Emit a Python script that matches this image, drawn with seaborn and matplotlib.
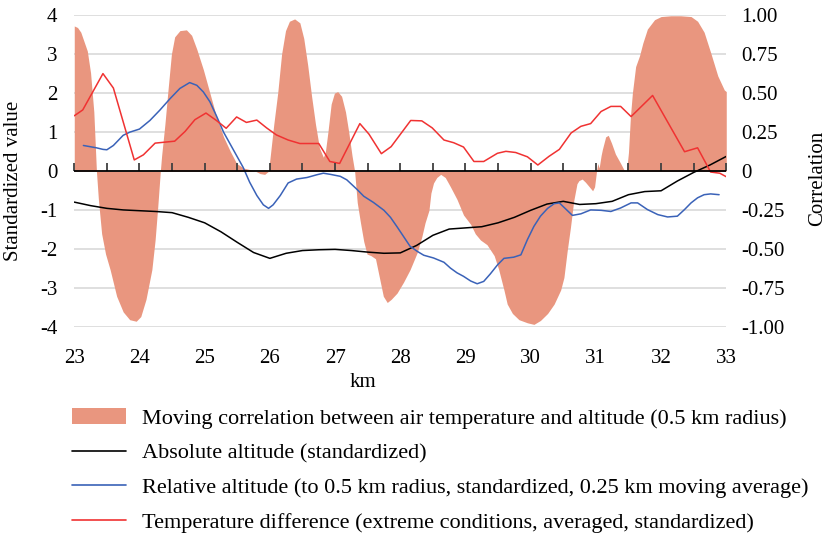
import numpy as np
import matplotlib
matplotlib.use("Agg")
import matplotlib.pyplot as plt
from matplotlib.patches import Patch
from matplotlib.lines import Line2D, TICKUP
import seaborn as sns

# Moving correlation between air temperature and altitude (right axis)
corr_km = [23.00, 23.05, 23.10, 23.15, 23.20, 23.25, 23.30, 23.34,
           23.37, 23.42, 23.48, 23.55, 23.65, 23.75, 23.85, 23.95, 24.02, 24.10,
           24.19, 24.24, 24.28, 24.32,
           24.34, 24.39, 24.44, 24.49, 24.54, 24.62, 24.72, 24.80, 24.88, 24.98,
           25.08, 25.18, 25.29, 25.39, 25.49, 25.60, 25.70, 25.78, 25.85, 25.92, 25.98,
           26.02, 26.06, 26.12, 26.18, 26.24, 26.30, 26.38, 26.46, 26.52, 26.58,
           26.64, 26.70, 26.76, 26.82,
           26.85, 26.89, 26.94, 26.99, 27.04, 27.10, 27.16, 27.21, 27.26, 27.30,
           27.34, 27.39, 27.44, 27.49, 27.55, 27.62, 27.68, 27.74, 27.80, 27.86,
           27.95, 28.05, 28.15, 28.26, 28.33, 28.38, 28.44, 28.47, 28.51, 28.56, 28.62,
           28.69, 28.77, 28.87, 28.97, 29.08, 29.15, 29.23, 29.33, 29.44, 29.51,
           29.59, 29.64, 29.72, 29.82, 29.95, 30.05, 30.15, 30.26, 30.36, 30.46,
           30.51, 30.56, 30.61, 30.66, 30.71, 30.74, 30.79, 30.84, 30.90, 30.95,
           30.98, 31.01, 31.03, 31.05, 31.08, 31.10, 31.15, 31.19, 31.24, 31.30,
           31.38, 31.43, 31.47,
           31.50, 31.53, 31.56, 31.61, 31.67, 31.72, 31.79, 31.90, 32.00, 32.15,
           32.30, 32.46, 32.56, 32.66, 32.76, 32.87, 32.97, 33.00]
corr_val = [0.93, 0.92, 0.89, 0.83, 0.77, 0.63, 0.38, 0.00,
            -0.18, -0.40, -0.53, -0.63, -0.80, -0.90, -0.95, -0.96, -0.93, -0.82,
            -0.63, -0.44, -0.23, 0.00,
            0.10, 0.30, 0.53, 0.75, 0.86, 0.90, 0.905, 0.87, 0.78, 0.65,
            0.50, 0.35, 0.22, 0.13, 0.05, 0.02, 0.01, 0.00, -0.015, -0.02, 0.00,
            0.15, 0.30, 0.50, 0.75, 0.90, 0.96, 0.975, 0.95, 0.85, 0.68,
            0.48, 0.30, 0.15, 0.09,
            0.12, 0.25, 0.43, 0.50, 0.51, 0.48, 0.38, 0.25, 0.10, 0.00,
            -0.20, -0.33, -0.45, -0.53, -0.54, -0.56, -0.68, -0.80, -0.84, -0.82,
            -0.78, -0.71, -0.63, -0.52, -0.42, -0.33, -0.25, -0.14, -0.075, -0.04, -0.02,
            -0.04, -0.10, -0.18, -0.28, -0.34, -0.40, -0.44, -0.47, -0.54, -0.63,
            -0.76, -0.85, -0.91, -0.95, -0.97, -0.98, -0.955, -0.91, -0.85, -0.76,
            -0.68, -0.51, -0.36, -0.19, -0.08, -0.06, -0.05, -0.07, -0.10, -0.125,
            -0.10, 0.00, 0.05, 0.02, 0.10, 0.14, 0.22, 0.23, 0.18, 0.11,
            0.05, 0.01, 0.00,
            0.12, 0.35, 0.50, 0.67, 0.74, 0.82, 0.91, 0.97, 0.99, 0.995,
            0.995, 0.99, 0.96, 0.89, 0.76, 0.61, 0.52, 0.51]

# Absolute altitude (standardized)
abs_km = [23.0, 23.25, 23.5, 23.75, 24.0, 24.25, 24.5, 24.75, 25.0, 25.25,
          25.5, 25.75, 26.0, 26.25, 26.5, 26.75, 27.0, 27.25, 27.5, 27.75,
          28.0, 28.25, 28.5, 28.75, 29.0, 29.25, 29.5, 29.75, 30.0, 30.25,
          30.5, 30.75, 31.0, 31.25, 31.5, 31.75, 32.0, 32.25, 32.5, 32.75, 33.0]
abs_val = [-0.79, -0.88, -0.95, -0.99, -1.01, -1.03, -1.06, -1.18, -1.32, -1.55,
           -1.82, -2.08, -2.23, -2.10, -2.03, -2.01, -2.00, -2.03, -2.07, -2.10,
           -2.09, -1.90, -1.64, -1.48, -1.45, -1.42, -1.32, -1.18, -1.00, -0.84,
           -0.77, -0.85, -0.83, -0.77, -0.60, -0.52, -0.50, -0.25, -0.03, 0.16, 0.38]

# Relative altitude (to 0.5 km radius, standardized, 0.25 km moving average)
rel_km = [23.14, 23.24, 23.34, 23.44, 23.50, 23.60, 23.75, 23.85, 24.00, 24.16,
          24.31, 24.47, 24.62, 24.77, 24.88, 24.98, 25.08, 25.18, 25.29, 25.39,
          25.49, 25.59, 25.69, 25.80, 25.90, 25.98, 26.05, 26.16, 26.28, 26.41,
          26.57, 26.72, 26.82, 26.93, 27.08, 27.18, 27.34, 27.44, 27.59, 27.75,
          27.85, 27.95, 28.05, 28.15, 28.26, 28.36, 28.51, 28.67, 28.77, 28.87,
          28.97, 29.08, 29.18, 29.28, 29.38, 29.49, 29.59, 29.74, 29.85, 29.95,
          30.05, 30.15, 30.26, 30.36, 30.44, 30.54, 30.64, 30.77, 30.92, 31.08,
          31.23, 31.38, 31.54, 31.64, 31.79, 31.95, 32.10, 32.25, 32.36, 32.46,
          32.56, 32.66, 32.76, 32.89]
rel_val = [0.66, 0.63, 0.60, 0.56, 0.55, 0.66, 0.92, 1.00, 1.08, 1.30,
           1.56, 1.86, 2.12, 2.27, 2.20, 2.03, 1.78, 1.42, 1.00, 0.70,
           0.40, 0.10, -0.28, -0.62, -0.86, -0.95, -0.86, -0.62, -0.30, -0.20,
           -0.16, -0.09, -0.05, -0.08, -0.13, -0.22, -0.47, -0.64, -0.80, -1.00,
           -1.18, -1.42, -1.67, -1.92, -2.05, -2.15, -2.22, -2.33, -2.48, -2.60,
           -2.69, -2.81, -2.88, -2.82, -2.63, -2.40, -2.23, -2.20, -2.14, -1.75,
           -1.41, -1.15, -0.95, -0.83, -0.81, -0.97, -1.13, -1.09, -0.99, -1.00,
           -1.03, -0.94, -0.81, -0.81, -0.98, -1.11, -1.17, -1.15, -0.98, -0.81,
           -0.68, -0.60, -0.58, -0.60]

# Temperature difference (extreme conditions, averaged, standardized)
temp_km = [23.00, 23.13, 23.44, 23.60, 23.92, 24.06, 24.24, 24.54, 24.70, 24.85,
           25.02, 25.18, 25.33, 25.49, 25.64, 25.80, 25.95, 26.10, 26.28, 26.46,
           26.75, 26.92, 27.07, 27.38, 27.52, 27.71, 27.86, 28.16, 28.33, 28.49,
           28.67, 28.82, 28.97, 29.13, 29.28, 29.49, 29.62, 29.77, 29.95, 30.11,
           30.28, 30.44, 30.62, 30.77, 30.92, 31.08, 31.23, 31.38, 31.54, 31.87,
           32.36, 32.56, 32.76, 32.90, 33.00]
temp_val = [1.42, 1.57, 2.50, 2.13, 0.29, 0.42, 0.72, 0.77, 1.02, 1.32,
            1.49, 1.30, 1.10, 1.39, 1.25, 1.31, 1.11, 0.93, 0.80, 0.71,
            0.71, 0.25, 0.20, 1.22, 0.95, 0.45, 0.63, 1.30, 1.29, 1.11,
            0.80, 0.73, 0.62, 0.25, 0.25, 0.46, 0.51, 0.48, 0.37, 0.16,
            0.38, 0.56, 0.98, 1.15, 1.22, 1.53, 1.66, 1.66, 1.40, 1.94,
            0.50, 0.60, -0.02, -0.05, -0.14]

x_ticks = list(range(23, 34))
x_half_ticks = [23.5, 24.5, 25.5, 26.5, 27.5, 28.5, 29.5, 30.5, 31.5, 32.5]
left_ticks = [-4, -3, -2, -1, 0, 1, 2, 3, 4]
right_ticks = [-1.0, -0.75, -0.5, -0.25, 0.0, 0.25, 0.5, 0.75, 1.0]
right_tick_labels = ["-1.00", "-0.75", "-0.50", "-0.25", "0",
                     "0.25", "0.50", "0.75", "1.00"]

legend_labels = [
    "Moving correlation between air temperature and altitude (0.5 km radius)",
    "Absolute altitude (standardized)",
    "Relative altitude (to 0.5 km radius, standardized, 0.25 km moving average)",
    "Temperature difference (extreme conditions, averaged, standardized)",
]

FILL = "#E9967F"
BLACK = "#000000"
BLUE = "#3A62B8"
RED = "#F03232"
GRID = "#D9D9D9"
TICK = "#404040"
FS = 15

sns.set_style("white")
plt.rcParams["font.family"] = ["Liberation Serif", "DejaVu Serif"]
plt.rcParams["axes.unicode_minus"] = False
plt.rcParams["text.color"] = "black"
plt.rcParams["axes.labelcolor"] = "black"

fig = plt.figure(figsize=(8.27, 5.36), dpi=100)
ax = fig.add_axes([0.0898, 0.389, 0.7884, 0.583])
ax2 = ax.twinx()

# correlation area on the right axis, below the lines
ax2.fill_between(corr_km, corr_val, 0, color=FILL, lw=0)
ax2.set_ylim(-1, 1)
ax2.set_yticks(right_ticks)
ax2.set_yticklabels(right_tick_labels)
ax2.set_axisbelow(True)
ax2.yaxis.grid(True, color=GRID, lw=1.2)
ax2.tick_params(axis="y", length=0, pad=11, labelsize=FS, right=False,
                labelcolor="black")
ax2.set_ylabel("Correlation", fontsize=FS)
ax2.yaxis.set_label_coords(1.125, 0.478)

# km labels live on the twin's x axis (bottom edge)
ax2.xaxis.set_visible(True)
ax2.tick_params(axis="x", which="both", bottom=False, top=False,
                labelbottom=True, labeltop=False, pad=12, labelsize=FS,
                labelcolor="black")
ax2.set_xlabel("km", fontsize=FS)
ax2.xaxis.set_label_coords(0.443, -0.145)

# lines on the left axis, drawn on top
ax.set_zorder(ax2.get_zorder() + 1)
ax.patch.set_visible(False)
sns.lineplot(x=abs_km, y=abs_val, ax=ax, color=BLACK, lw=1.1)
sns.lineplot(x=rel_km, y=rel_val, ax=ax, color=BLUE, lw=1.1)
sns.lineplot(x=temp_km, y=temp_val, ax=ax, color=RED, lw=1.1)

ax.set_xlim(23, 33)
ax.set_ylim(-4, 4)
ax.set_xticks(x_ticks)
ax.set_yticks(left_ticks)
ax.tick_params(axis="y", length=0, pad=12, labelsize=FS, left=False,
               labelcolor="black")
ax.tick_params(axis="x", which="both", bottom=False, labelbottom=False)
ax.set_ylabel("Standardized value", fontsize=FS)
ax.yaxis.set_label_coords(-0.079, 0.47)
ax.set_xlabel("")

for a in (ax, ax2):
    for s in a.spines.values():
        s.set_visible(False)

# zero line with half-km tick marks pointing up (vertical segments in
# axis-blended coordinates: x in km, y in points above the line)
tick_pos = sorted(x_ticks + x_half_ticks)
ax.vlines(tick_pos, 0, 0.22, colors=TICK, lw=1.3, zorder=5, clip_on=False)
ax.axhline(0, color="black", lw=1.3, zorder=6)

handles = [Patch(facecolor=FILL, edgecolor="none"),
           Line2D([], [], color=BLACK, lw=1.2),
           Line2D([], [], color=BLUE, lw=1.2),
           Line2D([], [], color=RED, lw=1.2)]
fig.legend(handles, legend_labels, loc="upper left",
           bbox_to_anchor=(72 / 827, 1 - 408 / 536), frameon=False,
           fontsize=16, handlelength=2.45, handletextpad=0.68,
           labelspacing=0.64, borderpad=0, borderaxespad=0)

fig.savefig("out.png", dpi=100)
